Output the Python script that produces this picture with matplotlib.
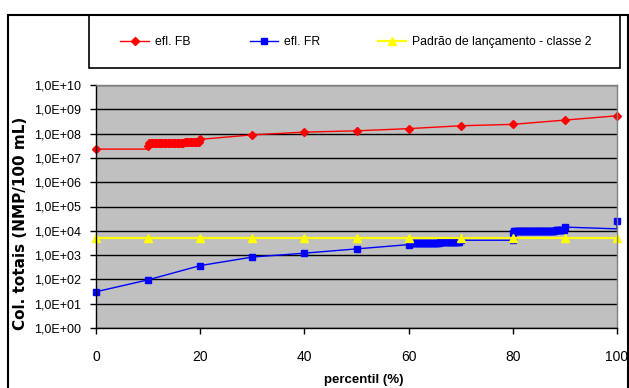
import math
import matplotlib
matplotlib.use("Agg")
import matplotlib.pyplot as plt
from matplotlib import font_manager as fm
from matplotlib.lines import Line2D
from matplotlib.patches import Rectangle
from matplotlib.ticker import FixedLocator, FuncFormatter

# ---------------------------------------------------------------- data
# efluente FB: percentil (%) x coliformes totais (NMP/100 mL)
fb_percentil = [0, 10, 10,
                10.25, 10.5, 10.75, 11, 11.25, 11.5, 11.75, 12, 12.25, 12.5,
                12.75, 13, 13.25, 13.5, 13.75, 14, 14.25, 14.5, 14.75, 15,
                15.25, 15.5, 15.75, 16, 16.25, 16.5, 16.75, 17, 17.25, 17.5,
                17.75, 18, 18.25, 18.5, 18.75, 19, 19.25, 19.5, 19.75,
                20, 30, 40, 50, 60, 70, 80, 90, 100]
fb_valores = [2.3e7, 2.3e7, 3.2e7,
              4.10e7, 4.10e7, 4.11e7, 4.12e7, 4.13e7, 4.13e7, 4.14e7, 4.15e7, 4.16e7, 4.17e7,
              4.17e7, 4.18e7, 4.19e7, 4.20e7, 4.21e7, 4.21e7, 4.22e7, 4.23e7, 4.24e7, 4.25e7,
              4.25e7, 4.26e7, 4.27e7, 4.28e7, 4.29e7, 4.29e7, 4.30e7, 4.31e7, 4.32e7, 4.33e7,
              4.33e7, 4.34e7, 4.35e7, 4.36e7, 4.37e7, 4.37e7, 4.38e7, 4.39e7, 4.40e7,
              5.8e7, 8.9e7, 1.15e8, 1.3e8, 1.6e8, 2.1e8, 2.4e8, 3.6e8, 5.4e8]

# efluente FR
fr_percentil = [0, 10, 20, 30, 40, 50, 60,
                60.25, 60.5, 60.75, 61, 61.25, 61.5, 61.75, 62, 62.25, 62.5,
                62.75, 63, 63.25, 63.5, 63.75, 64, 64.25, 64.5, 64.75, 65,
                65.25, 65.5, 65.75, 66, 66.25, 66.5, 66.75, 67, 67.25, 67.5,
                67.75, 68, 68.25, 68.5, 68.75, 69, 69.25, 69.5, 69.75,
                70, 80, 80,
                80.25, 80.5, 80.75, 81, 81.25, 81.5, 81.75, 82, 82.25, 82.5,
                82.75, 83, 83.25, 83.5, 83.75, 84, 84.25, 84.5, 84.75, 85,
                85.25, 85.5, 85.75, 86, 86.25, 86.5, 86.75, 87, 87.25, 87.5,
                87.75, 88, 88.25, 88.5, 88.75, 89, 89.25, 89.5, 89.75,
                90, 100, 100]
fr_valores = [31, 96, 370, 830, 1200, 1800, 2700,
              3100, 3100, 3110, 3120, 3130, 3130, 3140, 3150, 3160, 3170,
              3180, 3190, 3200, 3210, 3220, 3230, 3240, 3250, 3260, 3270,
              3280, 3290, 3300, 3310, 3320, 3330, 3340, 3350, 3360, 3370,
              3380, 3390, 3400, 3410, 3420, 3430, 3450, 3470, 3500,
              4100, 4100, 8500,
              9500, 9500, 9520, 9540, 9560, 9580, 9600, 9620, 9640, 9660,
              9680, 9700, 9720, 9740, 9760, 9780, 9800, 9820, 9840, 9860,
              9880, 9900, 9920, 9940, 9960, 9980, 10000, 10050, 10100, 10150,
              10200, 10250, 10300, 10350, 10400, 10420, 10440, 10470, 10500,
              14200, 12000, 25700]

# padrão de lançamento - classe 2
padrao_percentil = [0, 10, 20, 30, 40, 50, 60, 70, 80, 90, 100]
padrao_valores = [5000, 5000, 5000, 5000, 5000, 5000, 5000, 5000, 5000, 5000, 5000]

x_ticks = [0, 20, 40, 60, 80, 100]
y_exps = [0, 1, 2, 3, 4, 5, 6, 7, 8, 9, 10]

legend_labels = ["efl. FB", "efl. FR", "Padrão de lançamento - classe 2"]


# ---------------------------------------------------------------- fonts
def pick(*names):
    avail = {f.name for f in fm.fontManager.ttflist}
    for n in names:
        if n in avail:
            return n
    return "DejaVu Sans"


SANS = pick("Liberation Sans", "Arial")
NARROW = pick("Liberation Sans Narrow", "Arial Narrow")
legend_size = 10 if NARROW != "DejaVu Sans" else 8.8
if NARROW == "DejaVu Sans":
    NARROW = SANS

W, H = 629, 388
fig = plt.figure(figsize=(W / 100, H / 100), dpi=100)
fig.patch.set_facecolor("white")


def fx(px):
    return px / W


def fy(py):
    return 1 - py / H


# outer frame and legend box
fig.patches.append(Rectangle((fx(8), fy(420)), fx(628) - fx(8), fy(15) - fy(420),
                             transform=fig.transFigure, fill=False,
                             edgecolor="black", linewidth=1.5))
fig.patches.append(Rectangle((fx(89), fy(68)), fx(620) - fx(89), fy(15) - fy(68),
                             transform=fig.transFigure, fill=False,
                             edgecolor="black", linewidth=1.2))

ax = fig.add_axes([fx(96), fy(328), fx(617) - fx(96), fy(85) - fy(328)])
ax.set_facecolor("#C0C0C0")

red, blue, yellow = "#FF0000", "#0000FF", "#FFFF00"
styles = [
    dict(color=red, lw=1.0, marker="D", ms=3.9),
    dict(color=blue, lw=1.0, marker="s", ms=4.0),
    dict(color=yellow, lw=1.6, marker="^", ms=6),
]

ax.plot(fb_percentil, fb_valores, **styles[0],
        markevery=[i for i in range(len(fb_percentil)) if i != 1],
        zorder=3, clip_on=False)
ax.plot(fr_percentil, fr_valores, **styles[1],
        markevery=[i for i in range(len(fr_percentil)) if i != len(fr_percentil) - 2],
        zorder=3, clip_on=False)
ax.plot(padrao_percentil, padrao_valores, **styles[2], zorder=4, clip_on=False)

ax.set_yscale("log")
ax.set_ylim(1, 1e10)
ax.set_xlim(0, 100)

ax.yaxis.set_major_locator(FixedLocator([10.0 ** e for e in y_exps]))
ax.yaxis.set_minor_locator(FixedLocator([]))
ax.yaxis.set_major_formatter(FuncFormatter(
    lambda v, pos: "1,0E+%02d" % round(math.log10(v))))
ax.set_xticks(x_ticks)

ax.grid(True, axis="y", color="black", lw=1.0)
ax.set_axisbelow(True)

for s in ("left", "bottom"):
    ax.spines[s].set_color("black")
    ax.spines[s].set_linewidth(1.0)
for s in ("top", "right"):
    ax.spines[s].set_color("#808080")
    ax.spines[s].set_linewidth(1.0)
for sp in ax.spines.values():
    sp.set_zorder(5)

ax.tick_params(axis="y", direction="out", length=4, width=1, pad=7,
               labelsize=9)
ax.tick_params(axis="x", direction="out", length=4, width=1, pad=12,
               labelsize=10)
for lab in ax.get_xticklabels() + ax.get_yticklabels():
    lab.set_fontfamily(SANS)

fig.text(fx(364), fy(380), "percentil (%)", ha="center", va="center",
         fontsize=9.5, fontweight="bold", family=SANS)
fig.text(fx(21), fy(223), "Col. totais (NMP/100 mL)", ha="center", va="center",
         rotation=90, fontsize=11, fontweight="bold", family="DejaVu Sans")

# legend entries, one per series, placed along the legend box
entry_x = [120.5, 250, 377.5]
for st, lab, x0 in zip(styles, legend_labels, entry_x):
    fig.legend([Line2D([], [], **st)], [lab], loc="center left",
               bbox_to_anchor=(fx(x0), fy(42)), frameon=False,
               prop={"family": NARROW, "size": legend_size},
               handlelength=2.3, handletextpad=0.5,
               borderpad=0, borderaxespad=0)

fig.savefig("out.png", dpi=100)
